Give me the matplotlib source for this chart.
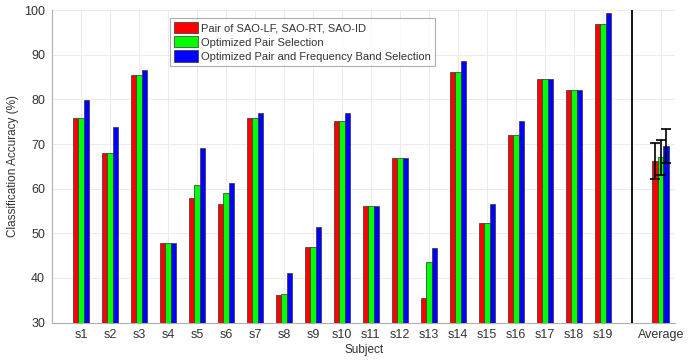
import numpy as np
import matplotlib.pyplot as plt

plt.rcParams['font.family'] = ['Liberation Sans', 'DejaVu Sans']

subjects = ['s%d' % i for i in range(1, 20)]
pair_fixed = [75.9, 68.1, 85.4, 47.9, 58.0, 56.5, 75.9, 36.1, 47.0, 75.1,
              56.2, 66.8, 35.4, 86.1, 52.4, 72.0, 84.5, 82.1, 97.0]
pair_opt = [75.9, 68.1, 85.4, 47.9, 60.8, 59.1, 75.9, 36.4, 47.0, 75.1,
            56.2, 66.8, 43.5, 86.1, 52.4, 72.0, 84.5, 82.1, 97.0]
pair_band_opt = [79.8, 73.8, 86.6, 47.9, 69.2, 61.2, 77.0, 41.2, 51.4, 77.0,
                 56.2, 66.8, 46.8, 88.6, 56.5, 75.1, 84.5, 82.1, 99.4]

avg_means = [66.2, 67.0, 69.5]
avg_err = [4.1, 3.9, 3.8]

labels = ['Pair of SAO-LF, SAO-RT, SAO-ID', 'Optimized Pair Selection',
          'Optimized Pair and Frequency Band Selection']
colors = ['#ff0000', '#00ff00', '#0000ff']

fig = plt.figure(figsize=(6.99, 3.62), dpi=100)
ax = fig.add_axes([0.0744, 0.109, 0.8916, 0.863])

x = np.arange(1, 20)
w = 0.19
series = [pair_fixed, pair_opt, pair_band_opt]
for k, vals in enumerate(series):
    ax.bar(x + (k - 1) * w, np.array(vals) - 30, w, bottom=30, color=colors[k],
           edgecolor='#333333', linewidth=0.5, label=labels[k], zorder=3)

# average group with standard error bars
for k in range(3):
    ax.bar(21 + (k - 1) * w, avg_means[k] - 30, w, bottom=30, color=colors[k],
           edgecolor='#333333', linewidth=0.5, zorder=3)
    ax.errorbar(21 + (k - 1) * w, avg_means[k], yerr=avg_err[k], fmt='none',
                ecolor='black', elinewidth=1.2, capsize=3.6, capthick=1.2, zorder=4)

ax.axvline(20, color='black', linewidth=1.3, zorder=4)

ax.set_xlim(0, 21.5)
ax.set_ylim(30, 100)
ax.set_xticks(list(x) + [21])
ax.set_xticklabels(subjects + ['Average'])
ax.set_yticks(range(30, 101, 10))
ax.grid(True, color='#ebebeb', linewidth=0.7, zorder=0)
ax.set_axisbelow(True)

for side in ['top', 'right']:
    ax.spines[side].set_visible(False)
for side in ['left', 'bottom']:
    ax.spines[side].set_color('#b0b0b0')
ax.tick_params(length=0, labelsize=9, colors='#333333', pad=5)

ax.set_xlabel('Subject', fontsize=8.5, color='#333333', labelpad=2)
ax.set_ylabel('Classification Accuracy (%)', fontsize=8.5, color='#333333', labelpad=4)

leg = ax.legend(loc='upper left', bbox_to_anchor=(0.189, 0.975), fontsize=8,
                frameon=True, fancybox=False, edgecolor='#999999',
                handlelength=2.2, handleheight=1.2, handletextpad=0.3,
                labelspacing=0.25, borderpad=0.35, borderaxespad=0)
leg.get_frame().set_linewidth(0.8)
for t in leg.get_texts():
    t.set_color('#333333')

fig.savefig('out.png', dpi=100)
